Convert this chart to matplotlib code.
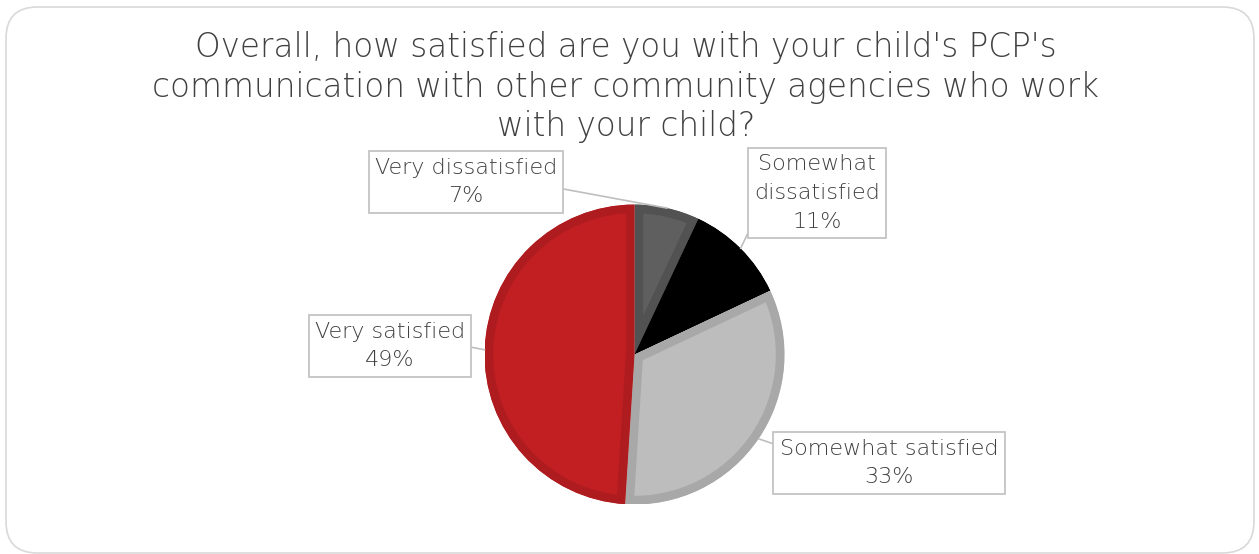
import numpy as np
import matplotlib.pyplot as plt
from matplotlib.patches import FancyBboxPatch

# Survey answers, clockwise from 12 o'clock
categories = ['Very dissatisfied', 'Somewhat\ndissatisfied', 'Somewhat satisfied', 'Very satisfied']
shares = [7, 11, 33, 49]
fill_colors = ['#5f5f5f', '#000000', '#bdbdbd', '#c21f23']
edge_colors = ['#525252', '#000000', '#a8a8a8', '#ae1c1f']

title = ("Overall, how satisfied are you with your child's PCP's\n"
         "communication with other community agencies who work\n"
         "with your child?")

W, H = 1259, 554
fig = plt.figure(figsize=(W / 100, H / 100), dpi=100)
txt_color = '#404040'
font = 'DejaVu Sans'

# rounded frame around the chart
frame = FancyBboxPatch((6 / W, 1 / H), 1248 / W, 546 / H,
                       boxstyle='round,pad=0,rounding_size=0.025',
                       transform=fig.transFigure, facecolor='none',
                       edgecolor='#d9d9d9', linewidth=1.2, mutation_aspect=W / H,
                       zorder=-1)
fig.patches.append(frame)

fig.text(626 / W, 1 - 87 / H, title, ha='center', va='center', fontsize=23.5,
         color=txt_color, family=font, fontweight=200, linespacing=1.26)

# pie axes: centre (634, 354) px from top, radius 150 px
cx, cy, r = 634.5, 354.5, 150
ax = fig.add_axes([(cx - r) / W, (H - cy - r) / H, 2 * r / W, 2 * r / H])

wedges, _ = ax.pie(shares, colors=fill_colors, startangle=90, counterclock=False,
                   radius=1, wedgeprops=dict(linewidth=12.5, joinstyle='miter'))
ax.set_xlim(-1, 1)
ax.set_ylim(-1, 1)
ax.set_aspect('equal')
ax.axis('off')
for w, ec in zip(wedges, edge_colors):
    w.set_edgecolor(ec)
    # keep only the inner half of the thick edge
    w.set_clip_on(True)
    w.set_clip_path(w.get_path(), w.get_transform())

# label boxes: centre in px from top, start of leader line on the box
label_pos = [(466, 182), (817, 193), (889, 463), (390, 346)]
leader_rel = [(1.0, 0.38), (0.0, 0.15), (0.0, 0.85), (1.0, 0.5)]

for w, cat, val, (px, py), rel in zip(wedges, categories, shares, label_pos, leader_rel):
    mid = np.deg2rad((w.theta1 + w.theta2) / 2)
    ax.annotate(f'{cat}\n{val}%', xy=(np.cos(mid), np.sin(mid)), xycoords='data',
                xytext=(px, H - py), textcoords='figure pixels',
                ha='center', va='center', fontsize=16, color=txt_color,
                family=font, fontweight=200, linespacing=1.55,
                bbox=dict(boxstyle='square,pad=0.28', facecolor='white',
                          edgecolor='#bfbfbf', linewidth=1.2),
                arrowprops=dict(arrowstyle='-', color='#bfbfbf', linewidth=1.2,
                                shrinkA=0, shrinkB=0, relpos=rel),
                annotation_clip=False)

fig.savefig('out.png', dpi=100)
